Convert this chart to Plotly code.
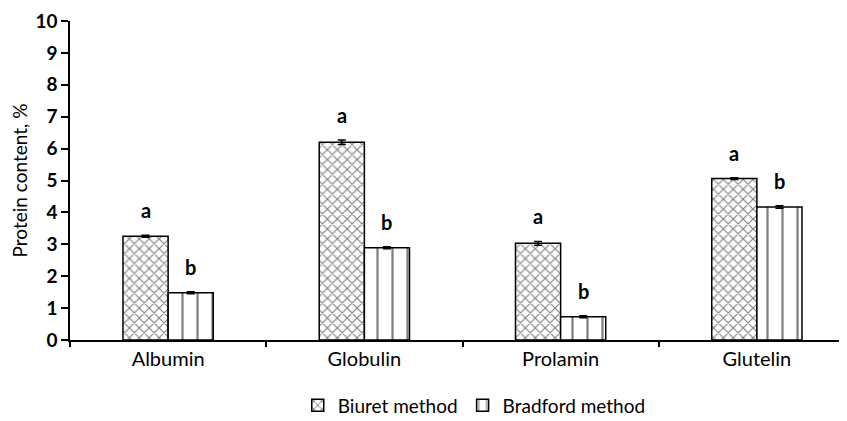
import plotly.graph_objects as go

categories = ["Albumin", "Globulin", "Prolamin", "Glutelin"]
biuret = [3.25, 6.20, 3.03, 5.06]
biuret_err = [0.03, 0.07, 0.06, 0.03]
bradford = [1.48, 2.89, 0.73, 4.17]
bradford_err = [0.03, 0.03, 0.03, 0.04]
biuret_letters = ["a", "a", "a", "a"]
bradford_letters = ["b", "b", "b", "b"]
y_ticks = list(range(0, 11))

FONT = "Lato"

fig = go.Figure()
fig.add_trace(go.Bar(
    name="Biuret method", x=categories, y=biuret,
    error_y=dict(type="data", array=biuret_err, color="black", thickness=1.5, width=4),
    marker=dict(color="white", line=dict(color="black", width=1.5),
                pattern=dict(shape="x", fgcolor="black", bgcolor="white", size=7, solidity=0.3)),
))
fig.add_trace(go.Bar(
    name="Bradford method", x=categories, y=bradford,
    error_y=dict(type="data", array=bradford_err, color="black", thickness=1.5, width=4),
    marker=dict(color="white", line=dict(color="black", width=1.5),
                pattern=dict(shape="|", fgcolor="black", bgcolor="white", size=15, solidity=0.15)),
))

for c, v, e, t in zip(categories, biuret, biuret_err, biuret_letters):
    fig.add_annotation(x=c, y=v + e, text="<b>%s</b>" % t, showarrow=False,
                       xshift=-22.5, yanchor="bottom", yshift=11,
                       font=dict(family=FONT, size=20, color="black"))
for c, v, e, t in zip(categories, bradford, bradford_err, bradford_letters):
    fig.add_annotation(x=c, y=v + e, text="<b>%s</b>" % t, showarrow=False,
                       xshift=22.5, yanchor="bottom", yshift=11,
                       font=dict(family=FONT, size=20, color="black"))

fig.update_layout(
    width=847, height=421,
    margin=dict(l=62, r=0, t=13, b=89, autoexpand=False),
    paper_bgcolor="white", plot_bgcolor="white",
    barmode="group", bargap=0.54, bargroupgap=0,
    font=dict(family=FONT, color="black"),
    showlegend=True,
    legend=dict(orientation="h", x=0.515, xanchor="center", y=-0.205, yanchor="middle",
                font=dict(family=FONT, size=19, color="black"), itemwidth=30,
                tracegroupgap=0),
)
fig.update_xaxes(
    type="category", range=[-0.5, 3.5], automargin=False,
    showline=True, linecolor="black", linewidth=1.5,
    ticks="outside", tickson="boundaries", ticklen=5, tickcolor="black", tickwidth=1.5,
    tickfont=dict(family=FONT, size=20, color="black"), showgrid=False,
)
fig.update_yaxes(
    range=[0, 10], tickvals=y_ticks, ticktext=["<b>%d</b>" % v for v in y_ticks],
    automargin=False,
    showline=True, linecolor="black", linewidth=1.5,
    ticks="outside", ticklen=7, tickcolor="black", tickwidth=1.5,
    tickfont=dict(family=FONT, size=19, color="black"), showgrid=False, zeroline=False,
    title=dict(text="Protein content, %", font=dict(family=FONT, size=19, color="black"), standoff=16),
)

fig.write_html("out.html")
